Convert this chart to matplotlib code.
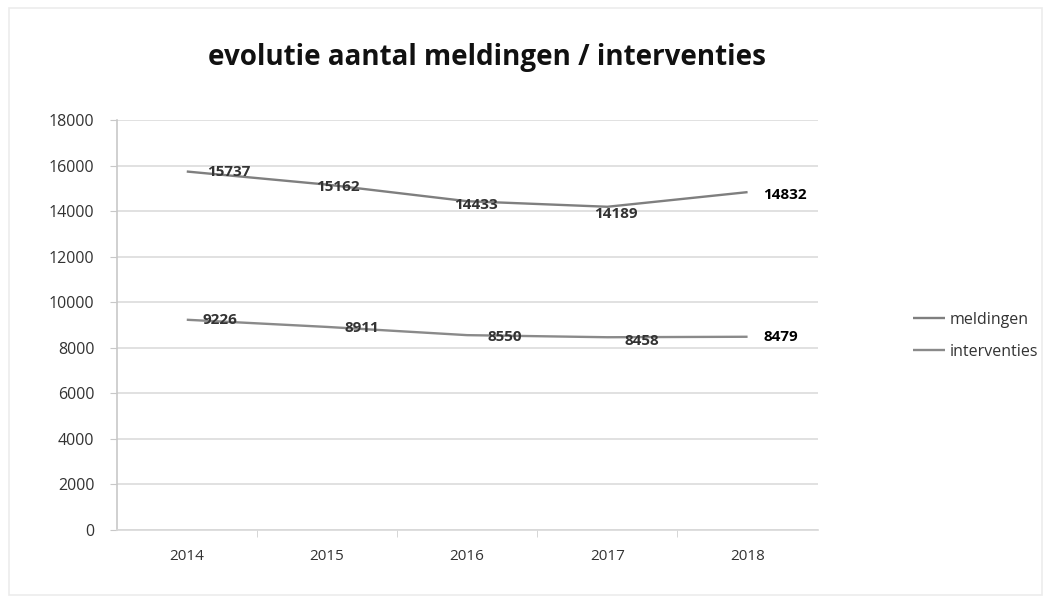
import matplotlib
matplotlib.use("Agg")
import matplotlib.pyplot as plt
from matplotlib.patches import Rectangle

years = ["2014", "2015", "2016", "2017", "2018"]
meldingen = [15737, 15162, 14433, 14189, 14832]
interventies = [9226, 8911, 8550, 8458, 8479]
title = "evolutie aantal meldingen / interventies"
yticks = [0, 2000, 4000, 6000, 8000, 10000, 12000, 14000, 16000, 18000]

plt.rcParams['font.family'] = ['Open Sans', 'DejaVu Sans']

fig = plt.figure(figsize=(10.51, 6.0), dpi=100)
fig.patch.set_facecolor("white")
fig.add_artist(Rectangle((0.009, 0.008), 0.982, 0.978, transform=fig.transFigure,
                         fill=False, edgecolor="#ececec", linewidth=1.2))
ax = fig.add_axes([0.111, 0.117, 0.667, 0.683])

x = list(range(len(years)))
ax.plot(x, meldingen, color="#7f7f7f", linewidth=1.7, label="meldingen", solid_capstyle="butt")
ax.plot(x, interventies, color="#8a8a8a", linewidth=1.7, label="interventies", solid_capstyle="butt")

ax.set_xlim(-0.5, len(years) - 0.5)
ax.set_ylim(0, 18000)
ax.set_yticks(yticks)
ax.set_yticklabels([str(v) for v in yticks])
ax.set_xticks(x)
ax.set_xticklabels(years)
ax.set_xticks([i + 0.5 for i in x[:-1]], minor=True)

ax.grid(axis="y", color="#dcdcdc", linewidth=1.2)
ax.set_axisbelow(True)
for s in ["top", "right"]:
    ax.spines[s].set_visible(False)
ax.spines["left"].set_color("#c8c8c8")
ax.spines["left"].set_linewidth(1.2)
ax.spines["bottom"].set_color("#d8d8d8")
ax.spines["bottom"].set_linewidth(1.2)
ax.tick_params(axis="y", length=5, color="#c8c8c8", labelsize=11.5, labelcolor="#333333", pad=11)
ax.tick_params(axis="x", which="major", length=0, labelsize=11, labelcolor="#333333", pad=14)
ax.tick_params(axis="x", which="minor", length=5, color="#d0d0d0")

# data labels (offsets in points)
mel_off = [(30, 0), (8, -2), (6, -3), (6, -5), (27, -2)]
int_off = [(24, 0), (25, -1), (27, -1), (25, -3), (24, 0)]
for i, (v, o) in enumerate(zip(meldingen, mel_off)):
    last = i == len(years) - 1
    ax.annotate(str(v), (i, v), xytext=o, textcoords="offset points",
                ha="center", va="center", fontsize=11, fontweight="bold",
                color="black" if last else "#333333")
for i, (v, o) in enumerate(zip(interventies, int_off)):
    last = i == len(years) - 1
    ax.annotate(str(v), (i, v), xytext=o, textcoords="offset points",
                ha="center", va="center", fontsize=11, fontweight="bold",
                color="black" if last else "#333333")

fig.text(0.463, 0.905, title, ha="center", va="center", fontsize=20,
         fontweight="bold", color="#111111")

leg = fig.legend(loc="center left", bbox_to_anchor=(0.855, 0.44), frameon=False,
                 fontsize=11.5, handlelength=2.0, handletextpad=0.3, labelspacing=1.0)
for t in leg.get_texts():
    t.set_color("#333333")

fig.savefig("out.png", dpi=100, facecolor="white")
